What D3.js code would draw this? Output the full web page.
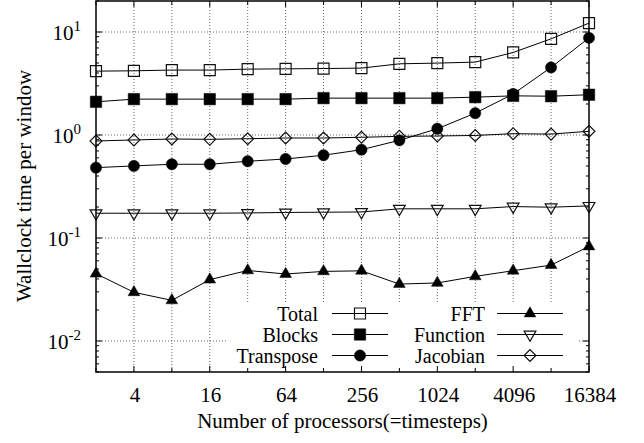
<!DOCTYPE html>
<html><head><meta charset="utf-8">
<script src="https://cdn.jsdelivr.net/npm/d3@7"></script>
<style>body{margin:0;background:#fff}svg{display:block}</style>
</head><body>
<svg id="c" width="644" height="443"></svg>
<script>
const procs = [2,4,8,16,32,64,128,256,512,1024,2048,4096,8192,16384];
const total = [4.17,4.20,4.27,4.27,4.36,4.39,4.42,4.46,4.91,4.99,5.10,6.33,8.58,12.2];
const blocks = [2.10,2.23,2.23,2.23,2.23,2.23,2.28,2.28,2.28,2.28,2.33,2.40,2.38,2.46];
const transpose = [0.482,0.501,0.52,0.52,0.556,0.585,0.636,0.72,0.888,1.15,1.63,2.50,4.53,8.77];
const fft = [0.045,0.0297,0.0248,0.0394,0.0484,0.0447,0.0474,0.048,0.0357,0.0366,0.0424,0.0481,0.0546,0.0827];
const func = [0.174,0.174,0.174,0.174,0.175,0.177,0.178,0.179,0.192,0.192,0.192,0.202,0.199,0.205];
const jacobian = [0.875,0.895,0.914,0.908,0.92,0.935,0.935,0.95,0.97,0.978,0.99,1.03,1.02,1.087];
const xTickLabels = [4,16,64,256,1024,4096,16384];
const yExponents = [-2,-1,0,1];
const seriesNames = ["Total","Blocks","Transpose","FFT","Function","Jacobian"];

const FONT="Liberation Serif";
const L=96,R=589,T=1,B=372;
const svg=d3.select("#c");
const x=d3.scaleLog().base(2).domain([2,16384]).range([L,R]);
const y=d3.scaleLog().domain([0.005,20]).range([B,T]);
function txt(sel){return sel.append("text").attr("font-family",FONT).attr("fill","#000");}

// grid
const g=svg.append("g");
procs.filter(p=>p>2&&p<16384).forEach(p=>{
  g.append("line").attr("x1",x(p)).attr("x2",x(p)).attr("y1",T).attr("y2",B)
   .attr("stroke","#666").attr("stroke-width",1).attr("stroke-dasharray","1,2");
});
yExponents.forEach(e=>{
  g.append("line").attr("x1",L).attr("x2",R).attr("y1",y(Math.pow(10,e))).attr("y2",y(Math.pow(10,e)))
   .attr("stroke","#666").attr("stroke-width",1).attr("stroke-dasharray","1,2");
});

// series
const sym={
  Total:{type:d3.symbolSquare,size:121,fill:"none",rot:0},
  Blocks:{type:d3.symbolSquare,size:132,fill:"#000",rot:0},
  Transpose:{type:d3.symbolCircle,size:100,fill:"#000",rot:0},
  FFT:{type:d3.symbolTriangle,size:60,fill:"#000",rot:0},
  Function:{type:d3.symbolTriangle,size:60,fill:"none",rot:180},
  Jacobian:{type:d3.symbolSquare,size:70,fill:"none",rot:45}
};
const data={Total:total,Blocks:blocks,Transpose:transpose,FFT:fft,Function:func,Jacobian:jacobian};
const line=d3.line().x((d,i)=>x(procs[i])).y(d=>y(d));
function marker(sel,name,cx,cy){
  const s=sym[name];
  sel.append("path").attr("d",d3.symbol().type(s.type).size(s.size)())
    .attr("transform",`translate(${cx},${cy}) rotate(${s.rot})`)
    .attr("fill",s.fill).attr("stroke","#111").attr("stroke-width",s.fill==="none"?1.2:0.5);
}
seriesNames.forEach(n=>{
  svg.append("path").attr("d",line(data[n])).attr("fill","none").attr("stroke","#000").attr("stroke-width",1);
});
seriesNames.forEach(n=>{
  data[n].forEach((v,i)=>marker(svg,n,x(procs[i]),y(v)));
});

// legend
svg.append("rect").attr("x",228).attr("y",302).attr("width",349).attr("height",B-302).attr("fill","#fff");
const cols=[{tx:318,l1:332,l2:388},{tx:485,l1:497,l2:563}];
seriesNames.forEach((n,i)=>{
  const c=cols[Math.floor(i/3)], ry=313.5+(i%3)*21;
  txt(svg).attr("x",c.tx).attr("y",ry+7).attr("text-anchor","end").attr("font-size",20).text(n);
  svg.append("line").attr("x1",c.l1).attr("x2",c.l2).attr("y1",ry).attr("y2",ry).attr("stroke","#000").attr("stroke-width",1);
  marker(svg,n,(c.l1+c.l2)/2,ry);
});

// ticks
const tk=svg.append("g").attr("stroke","#000").attr("stroke-width",1);
procs.forEach(p=>{
  const len=xTickLabels.includes(p)?6:4;
  tk.append("line").attr("x1",x(p)).attr("x2",x(p)).attr("y1",B).attr("y2",B-len);
  tk.append("line").attr("x1",x(p)).attr("x2",x(p)).attr("y1",T).attr("y2",T+len);
});
for(let e=-3;e<=1;e++){
  for(let m=1;m<=9;m++){
    const v=m*Math.pow(10,e);
    if(v<0.005||v>20) continue;
    const len=m===1?6:3;
    tk.append("line").attr("x1",L).attr("x2",L+len).attr("y1",y(v)).attr("y2",y(v));
    tk.append("line").attr("x1",R).attr("x2",R-len).attr("y1",y(v)).attr("y2",y(v));
  }
}
svg.append("rect").attr("x",L).attr("y",T).attr("width",R-L).attr("height",B-T)
  .attr("fill","none").attr("stroke","#000").attr("stroke-width",1.5);

// tick labels
xTickLabels.forEach(p=>{
  txt(svg).attr("x",x(p)+1).attr("y",401.5).attr("text-anchor","middle").attr("font-size",21).text(p);
});
yExponents.forEach(e=>{
  const t=txt(svg).attr("x",81).attr("y",y(Math.pow(10,e))+8).attr("text-anchor","end").attr("font-size",21);
  t.append("tspan").text("10");
  t.append("tspan").attr("dy",-9).attr("font-size",15).text(e);
});

// axis titles
txt(svg).attr("x",(L+R)/2).attr("y",428).attr("text-anchor","middle").attr("font-size",21)
  .text("Number of processors(=timesteps)");
txt(svg).attr("transform",`translate(31,186) rotate(-90)`).attr("text-anchor","middle").attr("font-size",21)
  .text("Wallclock time per window");
</script>
</body></html>
